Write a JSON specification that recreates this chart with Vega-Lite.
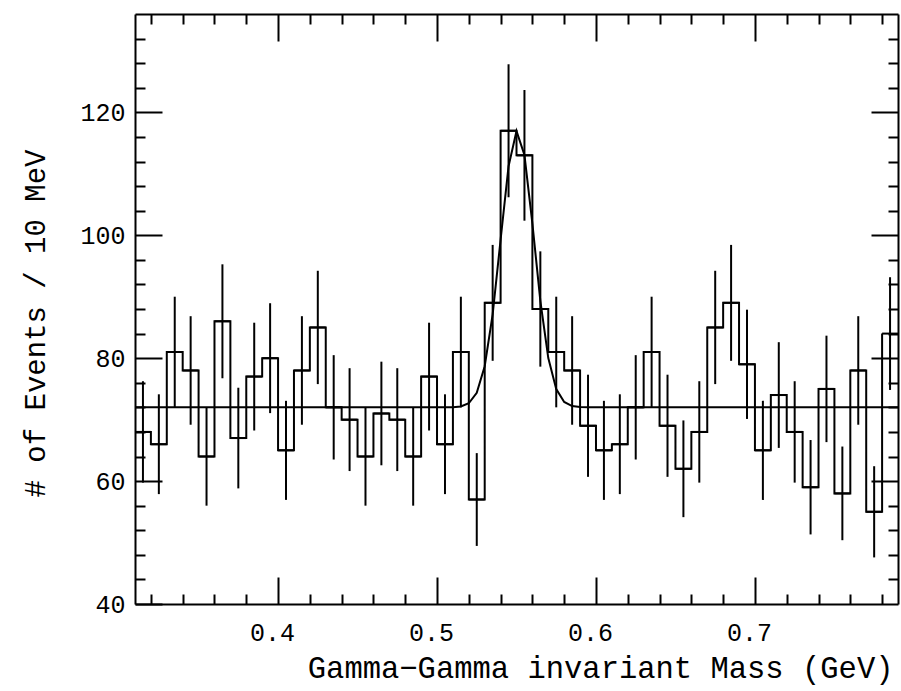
{
  "$schema": "https://vega.github.io/schema/vega-lite/v6.json",
  "width": 763,
  "height": 590,
  "autosize": {"type": "none"},
  "padding": {"left": 135, "top": 14, "right": 3, "bottom": 87},
  "background": "white",
  "config": {
    "view": {"stroke": null},
    "font": "Liberation Mono",
    "axis": {
      "grid": false,
      "domainColor": "black",
      "domainWidth": 2,
      "tickColor": "black",
      "tickWidth": 2,
      "labelColor": "black",
      "labelFont": "Liberation Mono",
      "titleFont": "Liberation Mono",
      "titleColor": "black",
      "titleFontWeight": "normal",
      "labelFlush": false,
      "labelOverlap": false,
      "labelBound": false
    }
  },
  "datasets": {
    "bins": [
      {"x0": 0.31, "x1": 0.32, "m": 0.315, "n": 68, "lo": 59.75, "hi": 76.25},
      {"x0": 0.32, "x1": 0.33, "m": 0.325, "n": 66, "lo": 57.88, "hi": 74.12},
      {"x0": 0.33, "x1": 0.34, "m": 0.335, "n": 81, "lo": 72, "hi": 90},
      {"x0": 0.34, "x1": 0.35, "m": 0.345, "n": 78, "lo": 69.17, "hi": 86.83},
      {"x0": 0.35, "x1": 0.36, "m": 0.355, "n": 64, "lo": 56, "hi": 72},
      {"x0": 0.36, "x1": 0.37, "m": 0.365, "n": 86, "lo": 76.73, "hi": 95.27},
      {"x0": 0.37, "x1": 0.38, "m": 0.375, "n": 67, "lo": 58.81, "hi": 75.19},
      {"x0": 0.38, "x1": 0.39, "m": 0.385, "n": 77, "lo": 68.23, "hi": 85.77},
      {"x0": 0.39, "x1": 0.40, "m": 0.395, "n": 80, "lo": 71.06, "hi": 88.94},
      {"x0": 0.40, "x1": 0.41, "m": 0.405, "n": 65, "lo": 56.94, "hi": 73.06},
      {"x0": 0.41, "x1": 0.42, "m": 0.415, "n": 78, "lo": 69.17, "hi": 86.83},
      {"x0": 0.42, "x1": 0.43, "m": 0.425, "n": 85, "lo": 75.78, "hi": 94.22},
      {"x0": 0.43, "x1": 0.44, "m": 0.435, "n": 72, "lo": 63.51, "hi": 80.49},
      {"x0": 0.44, "x1": 0.45, "m": 0.445, "n": 70, "lo": 61.63, "hi": 78.37},
      {"x0": 0.45, "x1": 0.46, "m": 0.455, "n": 64, "lo": 56, "hi": 72},
      {"x0": 0.46, "x1": 0.47, "m": 0.465, "n": 71, "lo": 62.57, "hi": 79.43},
      {"x0": 0.47, "x1": 0.48, "m": 0.475, "n": 70, "lo": 61.63, "hi": 78.37},
      {"x0": 0.48, "x1": 0.49, "m": 0.485, "n": 64, "lo": 56, "hi": 72},
      {"x0": 0.49, "x1": 0.50, "m": 0.495, "n": 77, "lo": 68.23, "hi": 85.77},
      {"x0": 0.50, "x1": 0.51, "m": 0.505, "n": 66, "lo": 57.88, "hi": 74.12},
      {"x0": 0.51, "x1": 0.52, "m": 0.515, "n": 81, "lo": 72, "hi": 90},
      {"x0": 0.52, "x1": 0.53, "m": 0.525, "n": 57, "lo": 49.45, "hi": 64.55},
      {"x0": 0.53, "x1": 0.54, "m": 0.535, "n": 89, "lo": 79.57, "hi": 98.43},
      {"x0": 0.54, "x1": 0.55, "m": 0.545, "n": 117, "lo": 106.18, "hi": 127.82},
      {"x0": 0.55, "x1": 0.56, "m": 0.555, "n": 113, "lo": 102.37, "hi": 123.63},
      {"x0": 0.56, "x1": 0.57, "m": 0.565, "n": 88, "lo": 78.62, "hi": 97.38},
      {"x0": 0.57, "x1": 0.58, "m": 0.575, "n": 81, "lo": 72, "hi": 90},
      {"x0": 0.58, "x1": 0.59, "m": 0.585, "n": 78, "lo": 69.17, "hi": 86.83},
      {"x0": 0.59, "x1": 0.60, "m": 0.595, "n": 69, "lo": 60.69, "hi": 77.31},
      {"x0": 0.60, "x1": 0.61, "m": 0.605, "n": 65, "lo": 56.94, "hi": 73.06},
      {"x0": 0.61, "x1": 0.62, "m": 0.615, "n": 66, "lo": 57.88, "hi": 74.12},
      {"x0": 0.62, "x1": 0.63, "m": 0.625, "n": 72, "lo": 63.51, "hi": 80.49},
      {"x0": 0.63, "x1": 0.64, "m": 0.635, "n": 81, "lo": 72, "hi": 90},
      {"x0": 0.64, "x1": 0.65, "m": 0.645, "n": 69, "lo": 60.69, "hi": 77.31},
      {"x0": 0.65, "x1": 0.66, "m": 0.655, "n": 62, "lo": 54.13, "hi": 69.87},
      {"x0": 0.66, "x1": 0.67, "m": 0.665, "n": 68, "lo": 59.75, "hi": 76.25},
      {"x0": 0.67, "x1": 0.68, "m": 0.675, "n": 85, "lo": 75.78, "hi": 94.22},
      {"x0": 0.68, "x1": 0.69, "m": 0.685, "n": 89, "lo": 79.57, "hi": 98.43},
      {"x0": 0.69, "x1": 0.70, "m": 0.695, "n": 79, "lo": 70.11, "hi": 87.89},
      {"x0": 0.70, "x1": 0.71, "m": 0.705, "n": 65, "lo": 56.94, "hi": 73.06},
      {"x0": 0.71, "x1": 0.72, "m": 0.715, "n": 74, "lo": 65.4, "hi": 82.6},
      {"x0": 0.72, "x1": 0.73, "m": 0.725, "n": 68, "lo": 59.75, "hi": 76.25},
      {"x0": 0.73, "x1": 0.74, "m": 0.735, "n": 59, "lo": 51.32, "hi": 66.68},
      {"x0": 0.74, "x1": 0.75, "m": 0.745, "n": 75, "lo": 66.34, "hi": 83.66},
      {"x0": 0.75, "x1": 0.76, "m": 0.755, "n": 58, "lo": 50.38, "hi": 65.62},
      {"x0": 0.76, "x1": 0.77, "m": 0.765, "n": 78, "lo": 69.17, "hi": 86.83},
      {"x0": 0.77, "x1": 0.78, "m": 0.775, "n": 55, "lo": 47.58, "hi": 62.42},
      {"x0": 0.78, "x1": 0.79, "m": 0.785, "n": 84, "lo": 74.83, "hi": 93.17}
    ],
    "fit": [
      {"mass": 0.31, "f": 72},
      {"mass": 0.5, "f": 72},
      {"mass": 0.505, "f": 72.0},
      {"mass": 0.51, "f": 72.03},
      {"mass": 0.515, "f": 72.15},
      {"mass": 0.52, "f": 72.66},
      {"mass": 0.525, "f": 74.36},
      {"mass": 0.53, "f": 78.69},
      {"mass": 0.535, "f": 87.14},
      {"mass": 0.54, "f": 99.29},
      {"mass": 0.545, "f": 111.23},
      {"mass": 0.55, "f": 116.95},
      {"mass": 0.555, "f": 113.05},
      {"mass": 0.56, "f": 101.88},
      {"mass": 0.565, "f": 89.34},
      {"mass": 0.57, "f": 80.02},
      {"mass": 0.575, "f": 74.96},
      {"mass": 0.58, "f": 72.87},
      {"mass": 0.585, "f": 72.2},
      {"mass": 0.59, "f": 72.04},
      {"mass": 0.595, "f": 72.0},
      {"mass": 0.79, "f": 72}
    ]
  },
  "data": {"name": "bins"},
  "layer": [
    {
      "mark": {"type": "line", "interpolate": "step-after", "color": "black", "strokeWidth": 2},
      "encoding": {
        "x": {
          "field": "x0", "type": "quantitative",
          "scale": {"domain": [0.31, 0.79], "nice": false, "zero": false},
          "axis": {
            "orient": "bottom",
            "values": [0.32, 0.34, 0.36, 0.38, 0.4, 0.42, 0.44, 0.46, 0.48, 0.5, 0.52, 0.54, 0.56, 0.58, 0.6, 0.62, 0.64, 0.66, 0.68, 0.7, 0.72, 0.74, 0.76, 0.78],
            "tickSize": {"condition": {"test": "abs(datum.value*10 - round(datum.value*10)) < 0.001", "value": -27}, "value": -10},
            "labelExpr": "abs(datum.value*10 - round(datum.value*10)) < 0.001 ? format(datum.value, '.1f') : ''",
            "labelPadding": 43,
            "labelFontSize": 25,
            "labelOffset": -6,
            "title": "Gamma−Gamma invariant Mass (GeV)",
            "titleFontSize": 30.5,
            "titleAlign": "right",
            "titleAnchor": "end",
            "titleBaseline": "alphabetic",
            "titleX": 758,
            "titleY": 73
          }
        },
        "y": {
          "field": "n", "type": "quantitative",
          "scale": {"domain": [40, 136], "nice": false, "zero": false},
          "axis": {
            "orient": "left",
            "values": [40, 44, 48, 52, 56, 60, 64, 68, 72, 76, 80, 84, 88, 92, 96, 100, 104, 108, 112, 116, 120, 124, 128, 132],
            "tickSize": {"condition": {"test": "datum.value % 20 === 0", "value": -27}, "value": -10},
            "labelExpr": "datum.value % 20 === 0 ? datum.label : ''",
            "labelPadding": 37,
            "labelFontSize": 25,
            "title": "# of Events / 10 MeV",
            "titleFontSize": 29,
            "titleAngle": 270,
            "titleAlign": "center",
            "titleBaseline": "alphabetic",
            "titleX": -91,
            "titleY": 309
          }
        }
      }
    },
    {
      "mark": {"type": "rule", "color": "black", "strokeWidth": 2},
      "encoding": {
        "x": {
          "field": "x0", "type": "quantitative",
          "axis": {
            "orient": "top",
            "values": [0.32, 0.34, 0.36, 0.38, 0.4, 0.42, 0.44, 0.46, 0.48, 0.5, 0.52, 0.54, 0.56, 0.58, 0.6, 0.62, 0.64, 0.66, 0.68, 0.7, 0.72, 0.74, 0.76, 0.78],
            "tickSize": {"condition": {"test": "abs(datum.value*10 - round(datum.value*10)) < 0.001", "value": -27}, "value": -10},
            "labels": false,
            "title": null
          }
        },
        "x2": {"field": "x1"},
        "y": {
          "field": "n", "type": "quantitative",
          "axis": {
            "orient": "right",
            "values": [44, 48, 52, 56, 60, 64, 68, 72, 76, 80, 84, 88, 92, 96, 100, 104, 108, 112, 116, 120, 124, 128, 132],
            "tickSize": {"condition": {"test": "datum.value % 20 === 0", "value": -27}, "value": -10},
            "labels": false,
            "title": null
          }
        }
      }
    },
    {
      "mark": {"type": "rule", "color": "black", "strokeWidth": 2},
      "encoding": {
        "x": {"field": "m", "type": "quantitative", "axis": null},
        "y": {"field": "lo", "type": "quantitative", "axis": null},
        "y2": {"field": "hi"}
      }
    },
    {
      "data": {"name": "fit"},
      "mark": {"type": "line", "color": "black", "strokeWidth": 2},
      "encoding": {
        "x": {"field": "mass", "type": "quantitative", "axis": null},
        "y": {"field": "f", "type": "quantitative", "axis": null}
      }
    }
  ],
  "resolve": {"axis": {"x": "independent", "y": "independent"}}
}
